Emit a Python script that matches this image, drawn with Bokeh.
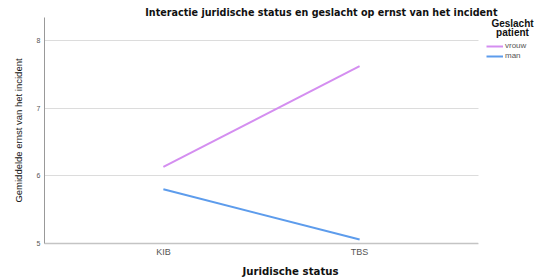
from bokeh.plotting import figure
from bokeh.models import Range1d, Legend, LegendItem, FixedTicker, Label, BoxAnnotation
from bokeh.embed import file_html
from bokeh.resources import INLINE

categories = ["KIB", "TBS"]
vrouw = [6.13, 7.62]
man = [5.80, 5.06]
series_names = ["vrouw", "man"]
colors = ["#d48ef0", "#5d9cec"]
y_ticks = [5, 6, 7, 8]

xs = list(range(len(categories)))
x_lo, x_hi = -0.606, 1.606          # extent of the drawn plot area
x_end = x_hi + 58 / (434 / (x_hi - x_lo))  # frame extended to hold the legend

p = figure(width=536, height=279, output_backend="svg", toolbar_location=None,
           x_range=Range1d(x_lo, x_end), y_range=Range1d(5, 8.337),
           min_border_left=44, min_border_right=0, min_border_top=17, min_border_bottom=34)
p.outline_line_color = None
p.background_fill_color = "white"
p.border_fill_color = "white"

p.title.text = "Interactie juridische status en geslacht op ernst van het incident"
p.title.align = "right"
p.title.offset = 39
p.title.standoff = 0
p.title.text_font = "DejaVu Sans"
p.title.text_font_style = "bold"
p.title.text_font_size = "9.6px"
p.title.text_color = "#111111"

r1 = p.line(xs, vrouw, line_color=colors[0], line_width=2)
r2 = p.line(xs, man, line_color=colors[1], line_width=2)

p.xgrid.grid_line_color = None
p.ygrid.grid_line_color = "#dcdcdc"
p.ygrid.grid_line_width = 1
p.yaxis.ticker = FixedTicker(ticks=y_ticks)
p.xaxis.ticker = FixedTicker(ticks=xs)
p.xaxis.major_label_overrides = {i: c for i, c in zip(xs, categories)}
p.xaxis.bounds = (x_lo, x_hi)

# white mask so that grid lines stop at the plot area's right edge
p.add_layout(BoxAnnotation(left=x_hi, fill_color="white", fill_alpha=1.0, line_color=None))

for ax in (p.xaxis[0], p.yaxis[0]):
    ax.major_tick_line_color = None
    ax.minor_tick_line_color = None
    ax.major_tick_out = 0
    ax.major_tick_in = 0
    ax.minor_tick_out = 0
    ax.minor_tick_in = 0
    ax.major_label_text_font = "Liberation Sans"
    ax.major_label_text_color = "#555555"
    ax.axis_label_text_color = "#111111"

p.xaxis.axis_line_color = "#c4c4c4"
p.xaxis.axis_line_width = 1.5
p.yaxis.axis_line_color = "#999999"
p.xaxis.major_label_text_font_size = "9px"
p.yaxis.major_label_text_font_size = "7px"
p.xaxis.major_label_standoff = 3
p.yaxis.major_label_standoff = 4

p.xaxis.axis_label = "Juridische status"
p.xaxis.axis_label_text_font = "DejaVu Sans"
p.xaxis.axis_label_text_font_style = "bold"
p.xaxis.axis_label_text_font_size = "10.2px"
p.xaxis.axis_label_standoff = 6

p.yaxis.axis_label = "Gemiddelde ernst van het incident"
p.yaxis.axis_label_text_font = "Liberation Sans"
p.yaxis.axis_label_text_font_style = "normal"
p.yaxis.axis_label_text_font_size = "9.5px"
p.yaxis.axis_label_standoff = 10

legend = Legend(items=[LegendItem(label=series_names[0], renderers=[r1]),
                       LegendItem(label=series_names[1], renderers=[r2])],
                location=(442, 183), glyph_width=17, glyph_height=8,
                label_text_font="Liberation Sans", label_text_font_size="8px",
                label_text_color="#555555", label_standoff=2, label_height=8,
                spacing=1, padding=0, margin=0, border_line_color=None,
                background_fill_alpha=0)
p.add_layout(legend)

for text, y in (("Geslacht", 220), ("patient", 211)):
    p.add_layout(Label(x=468, y=y, x_units="screen", y_units="screen", text=text,
                       text_font="Liberation Sans", text_font_style="bold",
                       text_font_size="10px", text_align="center", text_baseline="middle",
                       text_color="#111111"))

open("out.html", "w").write(file_html(p, INLINE))
